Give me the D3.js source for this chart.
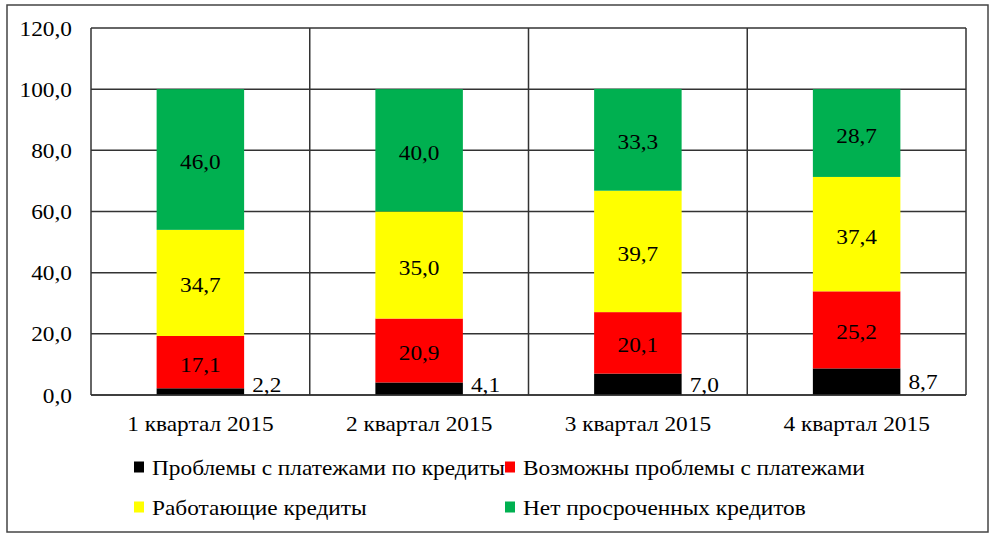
<!DOCTYPE html>
<html><head><meta charset="utf-8">
<script src="https://cdn.jsdelivr.net/npm/d3@7"></script>
<style>
html,body{margin:0;padding:0;background:#fff;}
svg{display:block;}
</style></head>
<body>
<svg id="chart" width="995" height="541" font-family="Liberation Serif"></svg>
<script>
const categories = ["1 квартал 2015", "2 квартал 2015", "3 квартал 2015", "4 квартал 2015"];
const seriesNames = ["Проблемы с платежами по кредиты", "Возможны проблемы с платежами", "Работающие кредиты", "Нет просроченных кредитов"];
const problems = [2.2, 4.1, 7.0, 8.7];
const possible = [17.1, 20.9, 20.1, 25.2];
const working = [34.7, 35.0, 39.7, 37.4];
const noOverdue = [46.0, 40.0, 33.3, 28.7];
const yTicks = [0, 20, 40, 60, 80, 100, 120];
const colors = ["#000000", "#FF0000", "#FFFF00", "#00B050"];

const svg = d3.select("#chart");
const plot = {left: 91, right: 966, top: 28, bottom: 395};
const fs = 22;
const stretchK = 1.06;
const fmt = v => d3.format(".1f")(v).replace(".", ",");
function stretch(sel) {
  sel.each(function() {
    const L = this.getComputedTextLength();
    this.setAttribute("textLength", (L * stretchK).toFixed(1));
    this.setAttribute("lengthAdjust", "spacingAndGlyphs");
  });
}

svg.append("rect").attr("x", 7).attr("y", 5).attr("width", 981).attr("height", 527)
  .attr("fill", "#fff").attr("stroke", "#444").attr("stroke-width", 1.5);

const x = d3.scaleBand().domain(categories).range([plot.left, plot.right]).paddingInner(0).paddingOuter(0);
const y = d3.scaleLinear().domain([0, 120]).range([plot.bottom, plot.top]);
const barW = x.bandwidth() * 0.4;

const rows = categories.map((c, i) => ({cat: c, s0: problems[i], s1: possible[i], s2: working[i], s3: noOverdue[i]}));
const stack = d3.stack().keys(["s0", "s1", "s2", "s3"])(rows);

const lineColor = "#333";
svg.append("g").selectAll("line").data(yTicks).join("line")
  .attr("x1", plot.left).attr("x2", plot.right)
  .attr("y1", d => y(d)).attr("y2", d => y(d))
  .attr("stroke", lineColor).attr("stroke-width", 1.5);
const seps = categories.map(c => x(c)).concat([plot.right]);
svg.append("g").selectAll("line").data(seps).join("line")
  .attr("x1", d => d).attr("x2", d => d)
  .attr("y1", plot.top).attr("y2", plot.bottom)
  .attr("stroke", lineColor).attr("stroke-width", 1.5);

const gBars = svg.append("g");
stack.forEach((layer, k) => {
  gBars.append("g").selectAll("rect").data(layer).join("rect")
    .attr("x", d => x(d.data.cat) + (x.bandwidth() - barW) / 2)
    .attr("width", barW)
    .attr("y", d => y(d[1]))
    .attr("height", d => y(d[0]) - y(d[1]))
    .attr("fill", colors[k]);
});
svg.append("line").attr("x1", plot.left).attr("x2", plot.right)
  .attr("y1", y(0)).attr("y2", y(0)).attr("stroke", lineColor).attr("stroke-width", 1.5);

const gLab = svg.append("g").attr("font-size", fs);
stack.forEach((layer, k) => {
  let t;
  if (k === 0) {
    t = gLab.append("g").selectAll("text").data(layer).join("text")
      .attr("x", d => x(d.data.cat) + (x.bandwidth() + barW) / 2 + 8)
      .attr("y", d => Math.min(y((d[0] + d[1]) / 2), y(0) - 11))
      .attr("dominant-baseline", "central")
      .attr("text-anchor", "start")
      .text(d => fmt(d[1] - d[0]));
  } else {
    t = gLab.append("g").selectAll("text").data(layer).join("text")
      .attr("x", d => x(d.data.cat) + x.bandwidth() / 2)
      .attr("y", d => y((d[0] + d[1]) / 2) + 2)
      .attr("dominant-baseline", "central")
      .attr("text-anchor", "middle")
      .text(d => fmt(d[1] - d[0]));
  }
  stretch(t);
});

stretch(svg.append("g").attr("font-size", fs).selectAll("text").data(yTicks).join("text")
  .attr("x", plot.left - 19).attr("y", d => y(d))
  .attr("dominant-baseline", "central").attr("text-anchor", "end")
  .text(d => fmt(d)));

stretch(svg.append("g").attr("font-size", fs).selectAll("text").data(categories).join("text")
  .attr("x", d => x(d) + x.bandwidth() / 2).attr("y", plot.bottom + 28)
  .attr("dominant-baseline", "central").attr("text-anchor", "middle")
  .text(d => d));

const legX = [134, 505], legY = [467, 507];
const leg = svg.append("g").attr("font-size", fs);
seriesNames.forEach((name, i) => {
  const lx = legX[i % 2], ly = legY[Math.floor(i / 2)];
  leg.append("rect").attr("x", lx).attr("y", ly - 5.5).attr("width", 10).attr("height", 11).attr("fill", colors[i]);
  stretch(leg.append("text").attr("x", lx + 18).attr("y", ly).attr("dominant-baseline", "central").text(name));
});
</script>
</body></html>
